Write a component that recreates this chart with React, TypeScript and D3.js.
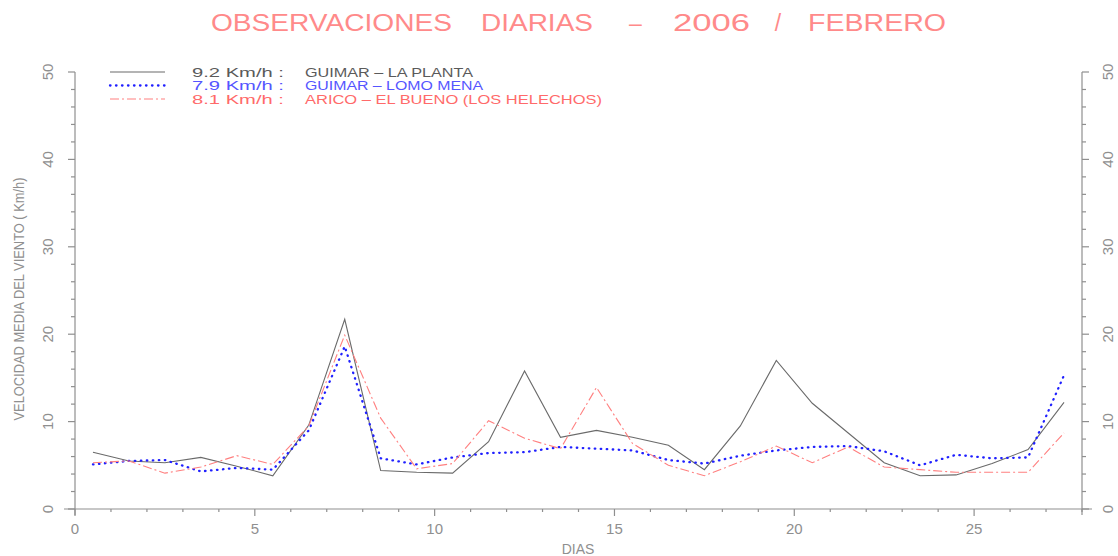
import React from "react";
import * as d3 from "d3";

const days = d3.range(0.5, 28, 1);
const laPlanta = [6.5,5.5,5.3,5.9,4.9,3.8,9.6,21.7,4.4,4.2,4.1,7.7,15.8,8.2,9.0,8.2,7.3,4.5,9.5,17.0,12.1,8.7,5.3,3.8,3.9,5.2,6.8,12.2];
const lomoMena = [5.1,5.5,5.6,4.3,4.7,4.5,9.0,18.6,5.8,5.1,5.9,6.4,6.5,7.1,6.9,6.7,5.6,5.2,6.1,6.7,7.1,7.2,6.6,5.0,6.2,5.8,5.9,15.3];
const elBueno = [5.3,5.5,4.1,4.8,6.1,5.1,9.5,19.9,10.4,4.6,5.2,10.1,8.1,6.9,13.9,7.5,5.0,3.8,5.4,7.2,5.3,7.1,4.8,4.5,4.2,4.2,4.2,8.7];

const xTickLabels = [0, 5, 10, 15, 20, 25];
const yTickLabels = [0, 10, 20, 30, 40, 50];

const titleParts = ["OBSERVACIONES", "DIARIAS", "\u2013", "2006", "/", "FEBRERO"];
const legendSpeeds = ["9.2 Km/h :", "7.9 Km/h :", "8.1 Km/h :"];
const legendNames = ["GUIMAR \u2013 LA PLANTA", "GUIMAR \u2013 LOMO MENA", "ARICO \u2013 EL BUENO (LOS HELECHOS)"];
const legendNameWidths = [168, 178, 297];

const W = 1118, H = 556;
const x = d3.scaleLinear().domain([0, 28]).range([75, 1082]);
const y = d3.scaleLinear().domain([0, 50]).range([509, 72]);

const seriesStyles = [
  { data: laPlanta, color: "#6a6a6a", dash: "none", width: 1.1, text: "#5a5a5a" },
  { data: lomoMena, color: "#2020ff", dash: "0.5,5.5", width: 2.3, text: "#5555ff" },
  { data: elBueno, color: "#ff8080", dash: "9,3,2,3", width: 1.1, text: "#ff6a6a" },
];

// title word positions [start, end] in px
const titleSpans = [[211, 452], [481, 593], [627, 644], [673, 750], [767, 789], [808, 946]];

const axisColor = "#8f8f8f";
const font = "'Liberation Sans', Arial, sans-serif";

export default function App() {
  const line = d3.line<number>().x((_, i) => x(days[i])).y((d) => y(d));
  const xMinor = d3.range(0, 29, 1);
  const yMinor = d3.range(0, 51, 2);
  return (
    <svg width={W} height={H} style={{ position: "absolute", left: 0, top: 0, background: "#fff" }} fontFamily={font}>
      {titleParts.map((t, i) => {
        const [a, b] = titleSpans[i];
        const word = t.length > 1;
        return (
          <text key={"t" + i} x={word ? a : (a + b) / 2} y={31} fill="#ff8a8a" fontSize={23}
            textAnchor={word ? "start" : "middle"}
            textLength={word ? b - a : undefined} lengthAdjust={word ? "spacingAndGlyphs" : undefined}>{t}</text>
        );
      })}

      {/* axes */}
      <g stroke={axisColor} strokeWidth={1.2} fill="none">
        <line x1={64} x2={1092} y1={y(0)} y2={y(0)} />
        <line x1={x(0)} x2={x(0)} y1={y(50)} y2={y(0) + 6} />
        <line x1={x(28)} x2={x(28)} y1={y(50)} y2={y(0) + 6} />
        {xMinor.map((d) => (
          <line key={"xt" + d} x1={x(d)} x2={x(d)} y1={y(0)} y2={y(0) + (d % 5 === 0 ? 7 : 3)} />
        ))}
        {yMinor.map((d) => (
          <g key={"yt" + d}>
            <line x1={x(0)} x2={x(0) - (d % 10 === 0 ? 7 : 4)} y1={y(d)} y2={y(d)} />
            <line x1={x(28)} x2={x(28) + (d % 10 === 0 ? 7 : 4)} y1={y(d)} y2={y(d)} />
          </g>
        ))}
      </g>

      {xTickLabels.map((d) => (
        <text key={"xl" + d} x={x(d)} y={534} textAnchor="middle" fill={axisColor} fontSize={15}>{d}</text>
      ))}
      {yTickLabels.map((d) => (
        <g key={"yl" + d}>
          <text transform={`translate(${53},${y(d)}) rotate(-90)`} textAnchor="middle" fill={axisColor} fontSize={15}>{d}</text>
          <text transform={`translate(${1113},${y(d)}) rotate(-90)`} textAnchor="middle" fill={axisColor} fontSize={15}>{d}</text>
        </g>
      ))}

      <text x={578} y={554} textAnchor="middle" fill={axisColor} fontSize={14}>DIAS</text>
      <text transform="translate(24,299) rotate(-90)" textAnchor="middle" fill={axisColor} fontSize={14}
        textLength={243} lengthAdjust="spacingAndGlyphs">
        VELOCIDAD MEDIA DEL VIENTO ( Km/h)
      </text>

      {/* series */}
      {seriesStyles.map((s, i) => (
        <path key={"s" + i} d={line(s.data) || ""} fill="none" stroke={s.color}
          strokeWidth={s.width} strokeDasharray={s.dash === "none" ? undefined : s.dash}
          strokeLinecap={i === 1 ? "round" : "butt"} />
      ))}

      {/* legend */}
      {seriesStyles.map((s, i) => {
        const ly = 72 + i * 13.5;
        return (
          <g key={"lg" + i}>
            <line x1={110} x2={165} y1={ly} y2={ly} stroke={s.color} strokeWidth={s.width}
              strokeDasharray={s.dash === "none" ? undefined : s.dash} strokeLinecap={i === 1 ? "round" : "butt"} />
            <text x={192} y={ly + 4.5} fill={s.text} fontSize={12} textLength={92} lengthAdjust="spacingAndGlyphs">{legendSpeeds[i]}</text>
            <text x={305} y={ly + 4.5} fill={s.text} fontSize={12} textLength={legendNameWidths[i]} lengthAdjust="spacingAndGlyphs">{legendNames[i]}</text>
          </g>
        );
      })}
    </svg>
  );
}
